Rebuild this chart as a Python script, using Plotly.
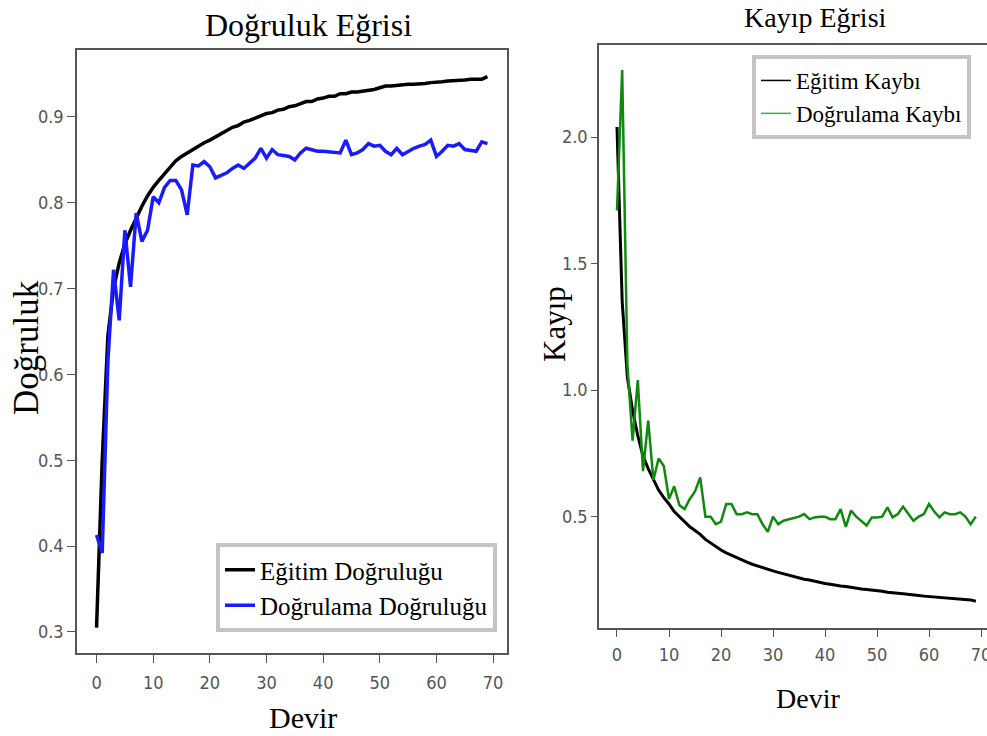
import plotly.graph_objects as go

epochs = list(range(70))

train_acc = [0.305, 0.50, 0.645, 0.70, 0.73, 0.752, 0.768, 0.783, 0.796, 0.808,
             0.818, 0.826, 0.834, 0.841, 0.849, 0.854, 0.858, 0.863, 0.866, 0.870,
             0.873, 0.877, 0.881, 0.884, 0.888, 0.890, 0.894, 0.896, 0.899, 0.902,
             0.904, 0.905, 0.908, 0.909, 0.912, 0.913, 0.915, 0.918, 0.918, 0.921,
             0.922, 0.924, 0.924, 0.927, 0.927, 0.929, 0.929, 0.930, 0.930, 0.932,
             0.934, 0.936, 0.936, 0.937, 0.937, 0.938, 0.938, 0.938, 0.939, 0.940,
             0.940, 0.941, 0.942, 0.942, 0.943, 0.943, 0.944, 0.944, 0.944, 0.947]

val_acc = [0.413, 0.392, 0.615, 0.722, 0.663, 0.768, 0.702, 0.788, 0.755, 0.768,
           0.807, 0.800, 0.818, 0.826, 0.826, 0.815, 0.786, 0.844, 0.843, 0.848,
           0.842, 0.829, 0.832, 0.835, 0.840, 0.844, 0.840, 0.846, 0.852, 0.8635,
           0.852, 0.862, 0.856, 0.855, 0.854, 0.850, 0.858, 0.8635, 0.862, 0.860,
           0.860, 0.859, 0.858, 0.858, 0.873, 0.856, 0.858, 0.862, 0.869, 0.866,
           0.867, 0.860, 0.856, 0.8635, 0.856, 0.860, 0.8635, 0.866, 0.868, 0.873,
           0.854, 0.860, 0.867, 0.866, 0.869, 0.862, 0.861, 0.860, 0.871, 0.869]

train_loss = [2.04, 1.35, 1.05, 0.92, 0.82, 0.74, 0.69, 0.645, 0.605, 0.575,
              0.55, 0.52, 0.50, 0.48, 0.46, 0.445, 0.43, 0.41, 0.395, 0.38,
              0.368, 0.357, 0.347, 0.338, 0.33, 0.32, 0.312, 0.305, 0.298, 0.293,
              0.286, 0.28, 0.274, 0.27, 0.262, 0.258, 0.253, 0.25, 0.245, 0.24,
              0.236, 0.233, 0.229, 0.226, 0.224, 0.22, 0.217, 0.214, 0.212, 0.21,
              0.207, 0.205, 0.201, 0.198, 0.197, 0.195, 0.192, 0.19, 0.188, 0.186,
              0.184, 0.182, 0.18, 0.179, 0.178, 0.176, 0.175, 0.172, 0.171, 0.166]

val_loss = [1.71, 2.265, 1.10, 0.80, 1.04, 0.68, 0.88, 0.645, 0.73, 0.70,
            0.57, 0.62, 0.545, 0.53, 0.57, 0.60, 0.655, 0.50, 0.50, 0.47,
            0.48, 0.55, 0.55, 0.51, 0.51, 0.517, 0.51, 0.51, 0.47, 0.44,
            0.50, 0.47, 0.484, 0.49, 0.497, 0.50, 0.51, 0.49, 0.497, 0.50,
            0.50, 0.49, 0.49, 0.53, 0.46, 0.524, 0.50, 0.484, 0.465, 0.497,
            0.497, 0.50, 0.537, 0.497, 0.51, 0.54, 0.51, 0.484, 0.50, 0.51,
            0.55, 0.52, 0.497, 0.517, 0.51, 0.51, 0.517, 0.50, 0.47, 0.50]

acc_ticks = [0.3, 0.4, 0.5, 0.6, 0.7, 0.8, 0.9]
loss_ticks = [0.5, 1.0, 1.5, 2.0]
x_ticks = [0, 10, 20, 30, 40, 50, 60, 70]

W, H = 987, 736
SERIF = "Liberation Serif, Times New Roman, serif"
NARROW = "Liberation Sans Narrow, DejaVu Sans Condensed, sans-serif"
AXC = "#555555"

fig = go.Figure()
fig.add_trace(go.Scatter(x=epochs, y=train_acc, mode="lines", name="Eğitim Doğruluğu",
                         line=dict(color="black", width=3.5), xaxis="x", yaxis="y",
                         legend="legend"))
fig.add_trace(go.Scatter(x=epochs, y=val_acc, mode="lines", name="Doğrulama Doğruluğu",
                         line=dict(color="#1a1aff", width=3.5), xaxis="x", yaxis="y",
                         legend="legend"))
fig.add_trace(go.Scatter(x=epochs, y=train_loss, mode="lines", name="Eğitim Kaybı",
                         line=dict(color="black", width=3), xaxis="x2", yaxis="y2",
                         showlegend=False))
fig.add_trace(go.Scatter(x=epochs, y=val_loss, mode="lines", name="Doğrulama Kaybı",
                         line=dict(color="#0f8a0f", width=2.5), xaxis="x2", yaxis="y2",
                         showlegend=False))
# thin legend samples for the loss panel (the legend keys there are thin lines)
fig.add_trace(go.Scatter(x=[None], y=[None], mode="lines", name="Eğitim Kaybı",
                         line=dict(color="black", width=1.5), xaxis="x2", yaxis="y2",
                         legend="legend2"))
fig.add_trace(go.Scatter(x=[None], y=[None], mode="lines", name="Doğrulama Kaybı",
                         line=dict(color="#3cb043", width=1.5), xaxis="x2", yaxis="y2",
                         legend="legend2"))

axis_common = dict(showgrid=False, zeroline=False, showline=True, linecolor=AXC,
                   linewidth=1.5, ticks="outside", tickcolor=AXC, automargin=False,
                   ticklabeloverflow="allow",
                   tickfont=dict(family=NARROW, size=18, color="#555555"))

fig.update_layout(
    width=W, height=H,
    autosize=False,
    margin=dict(l=0, r=0, t=0, b=0, autoexpand=False),
    paper_bgcolor="white", plot_bgcolor="white",
    xaxis=dict(domain=[77 / W, 507 / W], range=[-3.45, 72.45], tickvals=x_ticks,
               anchor="y", mirror=True, ticklen=8, ticklabelstandoff=5, **axis_common),
    yaxis=dict(domain=[(H - 653) / H, (H - 50) / H], range=[0.2755, 0.978],
               tickvals=acc_ticks, tickformat=".1f", anchor="x", mirror=True,
               ticklen=8, **axis_common),
    xaxis2=dict(domain=[599 / W, 1.0], range=[-3.46, 71.15], tickvals=x_ticks,
                anchor="y2", mirror=True, ticklen=7, ticklabelstandoff=3, **axis_common),
    yaxis2=dict(domain=[(H - 628) / H, (H - 45) / H], range=[0.06, 2.364],
                tickvals=loss_ticks, tickformat=".1f", anchor="x2", ticklen=6,
                **axis_common),
    legend=dict(x=497 / W, xanchor="right", y=(H - 632) / H, yanchor="bottom",
                bgcolor="white", bordercolor="#c4c4c4", borderwidth=4,
                font=dict(family=SERIF, size=25, color="black")),
    legend2=dict(x=752 / W, xanchor="left", y=(H - 55) / H, yanchor="top",
                 bgcolor="white", bordercolor="#c4c4c4", borderwidth=4,
                 font=dict(family=SERIF, size=23, color="black")),
    showlegend=True,
)

ann = [
    dict(text="Doğruluk Eğrisi", x=308 / W, y=(H - 25) / H, size=32),
    dict(text="Kayıp Eğrisi", x=815 / W, y=(H - 17) / H, size=28),
    dict(text="Devir", x=303 / W, y=(H - 717) / H, size=30),
    dict(text="Devir", x=808 / W, y=(H - 698) / H, size=28),
]
for a in ann:
    fig.add_annotation(text=a["text"], x=a["x"], y=a["y"], xref="paper", yref="paper",
                       xanchor="center", yanchor="middle", showarrow=False,
                       font=dict(family=SERIF, size=a["size"], color="black"))
fig.add_annotation(text="Doğruluk", x=26 / W, y=(H - 348) / H, xref="paper", yref="paper",
                   xanchor="center", yanchor="middle", showarrow=False, textangle=-90,
                   font=dict(family=SERIF, size=35, color="black"))
fig.add_annotation(text="Kayıp", x=555 / W, y=(H - 324) / H, xref="paper", yref="paper",
                   xanchor="center", yanchor="middle", showarrow=False, textangle=-90,
                   font=dict(family=SERIF, size=31, color="black"))

fig.write_html("out.html")
